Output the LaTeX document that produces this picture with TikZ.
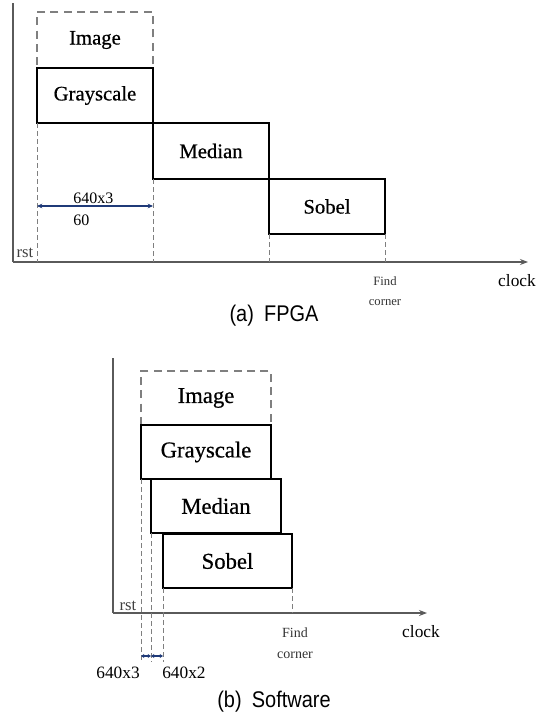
\documentclass[tikz,border=0pt]{standalone}
\usepackage{fontspec}
\setmainfont{Liberation Serif}
\newfontfamily\capfont[FakeStretch=0.88]{Liberation Sans}
\newfontfamily\boxfont[FakeBold=0.6]{Liberation Serif}
\usetikzlibrary{arrows.meta}
\definecolor{axisgray}{HTML}{5A5A5A}
\definecolor{dashgray}{HTML}{7F7F7F}
\definecolor{dimblue}{HTML}{1F3A78}
\begin{document}
\begin{tikzpicture}[x=0.75pt,y=-0.75pt,
  stage/.style={draw=black,line width=1.5pt,inner sep=0pt,outer sep=0pt},
  ghost/.style={draw=dashgray,line width=1.5pt,dash pattern=on 6pt off 4pt,inner sep=0pt,outer sep=0pt},
  guide/.style={draw=dashgray,line width=0.6pt,dash pattern=on 3.5pt off 2.5pt},
  axis/.style={draw=axisgray,line width=0.8pt},
  axisarrow/.style={axis,-{Stealth[length=6pt,width=4.5pt]}},
  dim/.style={draw=dimblue,line width=0.8pt,{Stealth[length=4pt,width=3.5pt]}-{Stealth[length=4pt,width=3.5pt]}},
  smalldim/.style={draw=dimblue,line width=0.8pt,{Stealth[length=2.5pt,width=3pt]}-{Stealth[length=2.5pt,width=3pt]}},
  lbl/.style={inner sep=0pt},
]
\useasboundingbox (0,0) rectangle (544,714);

% ---------------- (a) FPGA ----------------
\coordinate (aorig) at (13,262);
\coordinate (atop) at (13,3);
\coordinate (aend) at (528,262);
\draw[axis] (atop) -- (aorig);
\draw[axisarrow] (aorig) -- (aend);

\begin{scope}[every node/.append style={font=\boxfont\fontsize{15.5}{18}\selectfont}]
\node[ghost,minimum width=87pt,minimum height=42pt] (aimg) at (95,40) {Image};
\node[stage,minimum width=87pt,minimum height=41.25pt] (agray) at (95,95.5) {Grayscale};
\node[stage,minimum width=87pt,minimum height=42pt] (amed) at (211,151) {Median};
\node[stage,minimum width=87pt,minimum height=41.25pt] (asob) at (327,206.5) {Sobel};
\end{scope}

\draw[guide] (agray.south west) -- (agray.south west |- aorig);
\draw[guide] (amed.south west) -- (amed.south west |- aorig);
\draw[guide] (asob.south west) -- (asob.south west |- aorig);
\draw[guide] (asob.south east) -- (asob.south east |- aorig);

\coordinate (adimL) at (37,206);
\coordinate (adimR) at (153,206);
\draw[dim] (adimL) -- (adimR);
\node[lbl,anchor=north west,align=left,font=\fontsize{12}{16.5}\selectfont] (atime) at (73,193) {640x3\\60};

\node[lbl,font=\fontsize{12.5}{14}\selectfont,text=black!75] (arst) at (25,253) {rst};
\node[lbl,align=center,font=\fontsize{9.5}{15}\selectfont,text=black!80] (afind) at (385,291) {Find\\corner};
\node[lbl,font=\fontsize{13}{15}\selectfont] (aclock) at (517,281) {clock};
\node[lbl,font=\capfont\fontsize{17}{19}\selectfont] (acap) at (274,316) {(a)\hspace{0.45em}FPGA};

% ---------------- (b) Software ----------------
\coordinate (borig) at (113,613);
\coordinate (btop) at (113,358);
\coordinate (bend) at (427,613);
\draw[axis] (btop) -- (borig);
\draw[axisarrow] (borig) -- (bend);

\begin{scope}[every node/.append style={font=\boxfont\fontsize{17}{19}\selectfont}]
\node[ghost,minimum width=97.5pt,minimum height=40.5pt] (bimg) at (206,398) {Image};
\node[stage,minimum width=97.5pt,minimum height=40.5pt] (bgray) at (206,452) {Grayscale};
\node[stage,minimum width=97.5pt,minimum height=40.5pt] (bmed) at (216,506) {Median};
\node[stage,minimum width=96.75pt,minimum height=40.5pt] (bsob) at (227.5,561) {Sobel};
\end{scope}

\coordinate (blow) at (113,662);
\draw[guide] (bgray.south west) -- (bgray.south west |- blow);
\draw[guide] (bmed.south west) -- (bmed.south west |- blow);
\draw[guide] (bsob.south west) -- (bsob.south west |- blow);
\draw[guide] (bsob.south east) -- (bsob.south east |- borig);

\coordinate (bd1) at (141,656);
\coordinate (bd2) at (151,656);
\coordinate (bd3) at (163,656);
\draw[smalldim] (bd1) -- (bd2);
\draw[smalldim] (bd2) -- (bd3);
\node[lbl,anchor=east,font=\fontsize{13}{15}\selectfont] (bt1) at (140,673) {640x3};
\node[lbl,anchor=west,font=\fontsize{13}{15}\selectfont] (bt2) at (162,673) {640x2};

\node[lbl,font=\fontsize{12.5}{14}\selectfont,text=black!75] (brst) at (128,606) {rst};
\node[lbl,align=center,font=\fontsize{10.5}{16}\selectfont,text=black!80] (bfind) at (295,643) {Find\\corner};
\node[lbl,font=\fontsize{13}{15}\selectfont] (bclock) at (421,632) {clock};
\node[lbl,font=\capfont\fontsize{17}{19}\selectfont] (bcap) at (274,702) {(b)\hspace{0.45em}Software};
\end{tikzpicture}
\end{document}
